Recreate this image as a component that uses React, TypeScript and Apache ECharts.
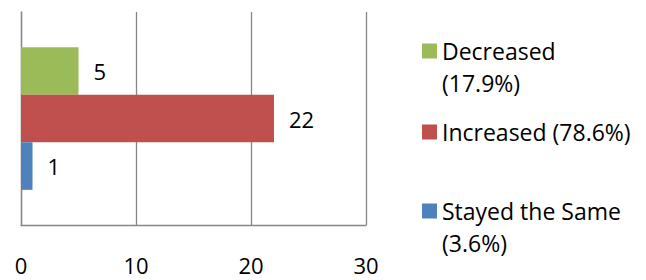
import React, { useEffect, useRef } from "react";
import * as echarts from "echarts";

const categories = ["Change"];
const seriesNames = ["Decreased", "Increased", "Stayed the Same"];
const seriesValues = [5, 22, 1];
const seriesShares = ["17.9%", "78.6%", "3.6%"];
const seriesColors = ["#9BBB59", "#C0504D", "#4F81BD"];
const xTicks = { min: 0, max: 30, interval: 10 };

const FONT = "'Open Sans', Lato, sans-serif";

export default function App() {
  const ref = useRef<HTMLDivElement>(null);

  useEffect(() => {
    if (!ref.current) return;
    const chart = echarts.init(ref.current, null, { renderer: "svg" });

    const series = seriesNames.map((name, i) => ({
      name,
      type: "bar",
      data: [seriesValues[i]],
      barGap: "0%",
      barCategoryGap: "33%",
      itemStyle: { color: seriesColors[i] },
      label: {
        show: true,
        position: "right",
        distance: 15,
        color: "#000",
        fontSize: 22,
        fontFamily: FONT,
      },
    }));

    const twoLine = (name: string) => name !== "Increased";
    const legendTop: Record<string, number> = {
      Decreased: 3,
      Increased: 116,
      "Stayed the Same": 163,
    };
    const legends = seriesNames.map((name, idx) => ({
      data: [name],
      orient: "vertical",
      left: 422,
      top: legendTop[name],
      padding: 0,
      icon: "rect",
      itemWidth: 15,
      itemHeight: 15,
      selectedMode: false,
      formatter: (n: string) =>
        twoLine(n) ? `\n${n}\n(${seriesShares[idx]})` : `${n} (${seriesShares[idx]})`,
      textStyle: {
        color: "#000",
        fontSize: 23,
        fontFamily: FONT,
        lineHeight: 32,
      },
    }));

    chart.setOption({
      animation: false,
      grid: { left: 21, right: 280, top: 12, bottom: 55, containLabel: false },
      legend: legends,
      xAxis: {
        type: "value",
        min: xTicks.min,
        max: xTicks.max,
        interval: xTicks.interval,
        axisLine: { show: true, lineStyle: { color: "#868686", width: 1.3 } },
        axisTick: { show: false },
        splitLine: { show: true, lineStyle: { color: "#868686", width: 1.3 } },
        axisLabel: { color: "#000", fontSize: 22, fontFamily: FONT, margin: 29 },
      },
      yAxis: {
        type: "category",
        data: categories,
        inverse: true,
        axisLine: { show: true, lineStyle: { color: "#868686", width: 1.3 } },
        axisTick: { show: false },
        axisLabel: { show: false },
      },
      series,
    });

    return () => chart.dispose();
  }, []);

  return (
    <div
      ref={ref}
      style={{ position: "fixed", left: 0, top: 0, width: 646, height: 280, background: "#fff" }}
    />
  );
}
